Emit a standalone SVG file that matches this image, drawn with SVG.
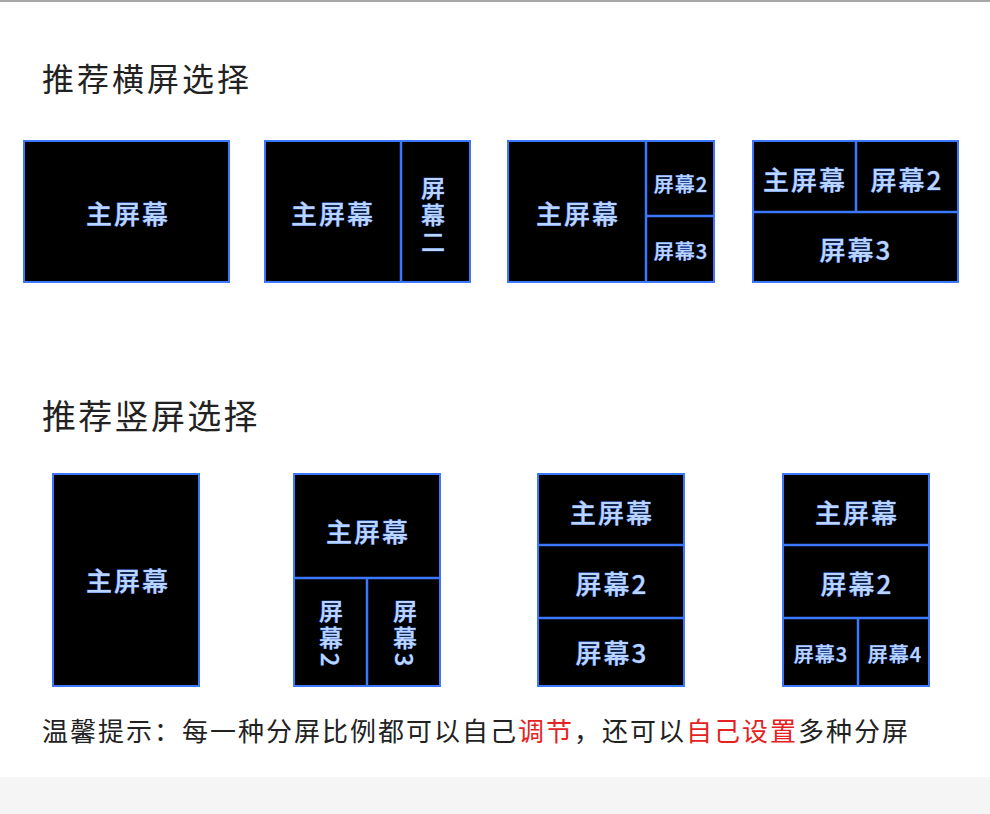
<svg xmlns="http://www.w3.org/2000/svg" width="990" height="814" viewBox="0 0 990 814">
<style>
.scr{fill:#000;stroke:#3c78ff;stroke-width:2}
.div{stroke:#3c78ff;stroke-width:2.5;fill:none}
.lbl{font-family:"Noto Sans CJK SC","Noto Sans",sans-serif;font-weight:500;fill:#bcd5ff;stroke:#4a86ff;stroke-width:0.6;paint-order:stroke;text-anchor:middle;dominant-baseline:central}
.vert{writing-mode:vertical-rl;font-size:24px;letter-spacing:3px}
.l26{font-size:26px;letter-spacing:2px}
.l20{font-size:20px;letter-spacing:1px}
.head{font-family:"Noto Sans CJK SC",sans-serif;fill:#222}
.foot{font-family:"Noto Sans CJK SC",sans-serif;font-size:26px;letter-spacing:2px;fill:#222}
.red{fill:#e52222}
</style>
<rect x="0" y="0" width="990" height="814" fill="#fff"/>
<rect x="0" y="0" width="990" height="2" fill="#a8a8a8"/>
<rect x="0" y="777" width="990" height="37" fill="#f5f5f5"/>

<text class="head" x="42" y="91" font-size="32" letter-spacing="3">推荐横屏选择</text>
<text class="head" x="42" y="429" font-size="34" letter-spacing="2.3">推荐竖屏选择</text>

<g id="h1">
<rect class="scr" x="24" y="141" width="205" height="141"/>
<text class="lbl l26" x="128" y="212">主屏幕</text>
</g>
<g id="h2">
<rect class="scr" x="265" y="141" width="205" height="141"/>
<line class="div" x1="401" y1="141" x2="401" y2="282"/>
<text class="lbl l26" x="333" y="212">主屏幕</text>
<text class="lbl vert" x="433" y="216">屏幕二</text>
</g>
<g id="h3">
<rect class="scr" x="508" y="141" width="206" height="141"/>
<line class="div" x1="646" y1="141" x2="646" y2="282"/>
<line class="div" x1="646" y1="216" x2="714" y2="216"/>
<text class="lbl l26" x="578" y="212">主屏幕</text>
<text class="lbl l20" x="681" y="183">屏幕2</text>
<text class="lbl l20" x="681" y="250">屏幕3</text>
</g>
<g id="h4">
<rect class="scr" x="753" y="141" width="205" height="141"/>
<line class="div" x1="753" y1="212" x2="958" y2="212"/>
<line class="div" x1="856" y1="141" x2="856" y2="212"/>
<text class="lbl l26" x="805" y="178">主屏幕</text>
<text class="lbl l26" x="907" y="178">屏幕2</text>
<text class="lbl l26" x="856" y="248">屏幕3</text>
</g>

<g id="v1">
<rect class="scr" x="53" y="474" width="146" height="212"/>
<text class="lbl l26" x="128" y="579">主屏幕</text>
</g>
<g id="v2">
<rect class="scr" x="294" y="474" width="146" height="212"/>
<line class="div" x1="294" y1="578" x2="440" y2="578"/>
<line class="div" x1="367" y1="578" x2="367" y2="686"/>
<text class="lbl l26" x="368" y="530">主屏幕</text>
<text class="lbl vert" x="331" y="634">屏幕2</text>
<text class="lbl vert" x="405" y="634">屏幕3</text>
</g>
<g id="v3">
<rect class="scr" x="538" y="474" width="146" height="212"/>
<line class="div" x1="538" y1="545" x2="684" y2="545"/>
<line class="div" x1="538" y1="618" x2="684" y2="618"/>
<text class="lbl l26" x="612" y="511">主屏幕</text>
<text class="lbl l26" x="612" y="582">屏幕2</text>
<text class="lbl l26" x="612" y="651">屏幕3</text>
</g>
<g id="v4">
<rect class="scr" x="783" y="474" width="146" height="212"/>
<line class="div" x1="783" y1="545" x2="929" y2="545"/>
<line class="div" x1="783" y1="618" x2="929" y2="618"/>
<line class="div" x1="858" y1="618" x2="858" y2="686"/>
<text class="lbl l26" x="857" y="511">主屏幕</text>
<text class="lbl l26" x="857" y="582">屏幕2</text>
<text class="lbl l20" x="821" y="653">屏幕3</text>
<text class="lbl l20" x="895" y="653">屏幕4</text>
</g>

<text class="foot" x="42" y="741">温馨提示：每一种分屏比例都可以自己<tspan class="red">调节</tspan>，还可以<tspan class="red">自己设置</tspan>多种分屏</text>
</svg>
